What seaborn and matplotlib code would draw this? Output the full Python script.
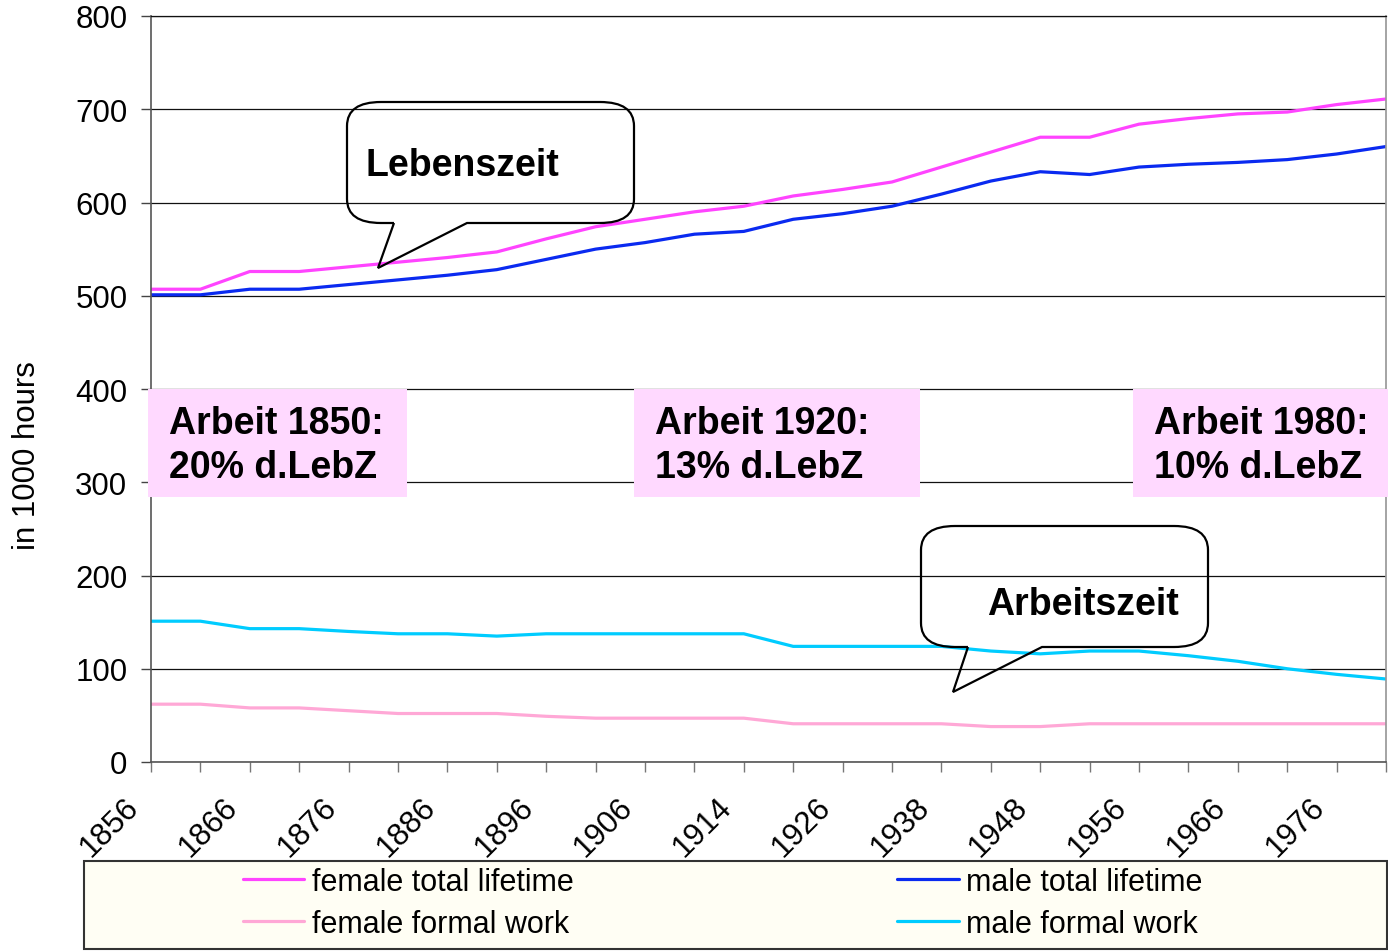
import matplotlib
matplotlib.use("Agg")
import matplotlib.pyplot as plt
import matplotlib.patches as mpatches
import matplotlib.transforms as mtransforms
from matplotlib.path import Path
import numpy as np
import pandas as pd
import seaborn as sns

# category labels (every second category is labelled on the x axis)
tick_labels = ["1856", "1866", "1876", "1886", "1896", "1906", "1914",
               "1926", "1938", "1948", "1956", "1966", "1976"]

# values in 1000 hours, one per category (26 categories)
female_total = [507, 507, 526, 526, 531, 536, 541, 547, 561, 574, 582, 590, 596,
                607, 614, 622, 638, 654, 670, 670, 684, 690, 695, 697, 705, 711]
male_total = [501, 501, 507, 507, 512, 517, 522, 528, 539, 550, 557, 566, 569,
              582, 588, 596, 609, 623, 633, 630, 638, 641, 643, 646, 652, 660]
female_work = [62, 62, 58, 58, 55, 52, 52, 52, 49, 47, 47, 47, 47,
               41, 41, 41, 41, 38, 38, 41, 41, 41, 41, 41, 41, 41]
male_work = [151, 151, 143, 143, 140, 137.5, 137.5, 135, 137.5, 137.5, 137.5, 137.5, 137.5,
             124, 124, 124, 124, 119, 116, 119, 119, 114, 108, 100, 94, 89]

series_names = ["female total lifetime", "male total lifetime",
                "female formal work", "male formal work"]
palette = {"female total lifetime": "#FF44FF", "male total lifetime": "#0A2AF0",
           "female formal work": "#FFA8D6", "male formal work": "#00CCFF"}

notes = ["Arbeit 1850:\n20% d.LebZ", "Arbeit 1920:\n13% d.LebZ", "Arbeit 1980:\n10% d.LebZ"]

# build long table
pos = np.arange(len(female_total))
df = pd.concat([
    pd.DataFrame({"pos": pos, "value": vals, "series": name})
    for name, vals in zip(series_names, [female_total, male_total, female_work, male_work])
])

sns.set_theme(style="white")
plt.rcParams["font.family"] = ["Liberation Sans", "DejaVu Sans"]
for key in ["text.color", "axes.labelcolor", "xtick.labelcolor", "ytick.labelcolor"]:
    plt.rcParams[key] = "black"

W, H = 1388, 953
fig = plt.figure(figsize=(W / 100, H / 100), dpi=100)
ax = fig.add_axes([151 / W, 1 - 763 / H, (1386 - 151) / W, (763 - 17) / H])


def fx(px):
    return px / W


def fy(py):
    return 1 - py / H


sns.lineplot(data=df, x="pos", y="value", hue="series", hue_order=series_names,
             palette=palette, linewidth=2.3, ax=ax, legend=True)

ax.set_xlim(0, len(pos) - 1)
ax.set_ylim(0, 800)
ax.set_yticks(range(0, 801, 100))
ax.set_xticks(pos)
ax.grid(axis="y", color="#111111", linewidth=0.9)
ax.set_axisbelow(True)
ax.tick_params(axis="y", which="major", direction="out", length=7, width=1,
               color="#444444", labelsize=22.5, pad=10, left=True)
ax.tick_params(axis="x", which="major", direction="out", length=7, width=1,
               color="#777777", labelsize=22.5, pad=20, bottom=True)
ax.set_xticklabels([tick_labels[i // 2] if i % 2 == 0 else "" for i in pos],
                   rotation=45, ha="right", va="center", rotation_mode="anchor")
# nudge rotated labels to the left like the original
shift = mtransforms.ScaledTranslation(-12 / 72, -2 / 72, fig.dpi_scale_trans)
for lab in ax.get_xticklabels():
    lab.set_transform(lab.get_transform() + shift)
ax.set_xlabel("")
ax.set_ylabel("in 1000 hours", fontsize=22.5)
ax.yaxis.set_label_coords(-0.088, 0.4115)

for side in ["left", "bottom"]:
    ax.spines[side].set_color("#555555")
    ax.spines[side].set_linewidth(1.2)
ax.spines["right"].set_color("#999999")
ax.spines["top"].set_color("#111111")
ax.spines["top"].set_linewidth(0.9)

# legend: reorder so that rows read female/male
handles, labels = ax.get_legend_handles_labels()
ax.get_legend().remove()
order = [0, 2, 1, 3]
fig.add_artist(mpatches.Rectangle((fx(84), fy(950)), fx(1387) - fx(84), fy(862) - fy(950),
                                  transform=fig.transFigure, facecolor="#FFFEF4",
                                  edgecolor="#333333", linewidth=1.5, zorder=0.5))
fig.legend([handles[i] for i in order], [labels[i] for i in order],
           loc="center left", bbox_to_anchor=(fx(243), fy(904)), ncol=2,
           frameon=False, fontsize=22, handlelength=2.0, handletextpad=0.25,
           columnspacing=10.6, labelspacing=0.4, borderpad=0, borderaxespad=0)

# pink note boxes
boxes = [(148, 407), (634, 920), (1133, 1388)]
for (x0, x1), txt in zip(boxes, notes):
    fig.add_artist(mpatches.Rectangle((fx(x0), fy(498)), fx(x1) - fx(x0), fy(390) - fy(498),
                                      transform=fig.transFigure, facecolor="#FFD9FF",
                                      edgecolor="none", zorder=2))
    fig.text(fx(x0 + 21), fy(446), txt, fontsize=27, fontweight="bold",
             ha="left", va="center", linespacing=1.25, zorder=3)


# speech bubbles
def bubble(left, right, top, bottom, base1, base2, tip, rx=34, ry=24):
    pts = [(base1, bottom), tip, (base2, bottom),
           (right - rx, bottom), (right, bottom), (right, bottom - ry),
           (right, top + ry), (right, top), (right - rx, top),
           (left + rx, top), (left, top), (left, top + ry),
           (left, bottom - ry), (left, bottom), (left + rx, bottom),
           (base1, bottom)]
    codes = [Path.MOVETO, Path.LINETO, Path.LINETO,
             Path.LINETO, Path.CURVE3, Path.CURVE3,
             Path.LINETO, Path.CURVE3, Path.CURVE3,
             Path.LINETO, Path.CURVE3, Path.CURVE3,
             Path.LINETO, Path.CURVE3, Path.CURVE3,
             Path.LINETO]
    verts = [(fx(x), fy(y)) for x, y in pts]
    fig.add_artist(mpatches.PathPatch(Path(verts, codes), transform=fig.transFigure,
                                      facecolor="none", edgecolor="black",
                                      linewidth=1.6, zorder=3))


bubble(347, 634, 103, 224, 394, 467, (378, 269))
fig.text(fx(366), fy(166), "Lebenszeit", fontsize=27, fontweight="bold",
         ha="left", va="center", zorder=4)
bubble(921, 1208, 527, 648, 968, 1042, (953, 693))
fig.text(fx(987), fy(605), "Arbeitszeit", fontsize=27, fontweight="bold",
         ha="left", va="center", zorder=4)

fig.savefig("out.png", dpi=100)
